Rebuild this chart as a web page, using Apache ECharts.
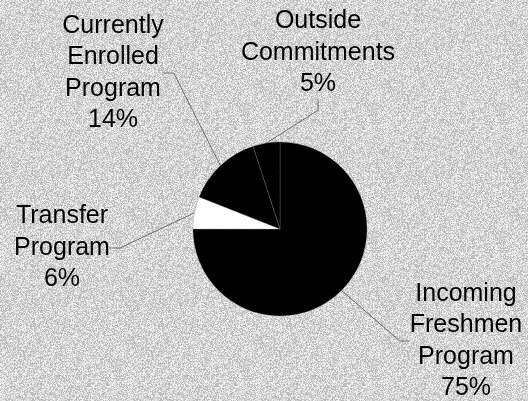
<!DOCTYPE html>
<html>
<head>
<meta charset="utf-8">
<script src="https://cdn.jsdelivr.net/npm/echarts@6/dist/echarts.min.js"></script>
<style>
html,body{margin:0;padding:0;background:#d0d0d0;}
#chart{width:528px;height:401px;}
</style>
</head>
<body>
<div id="chart"></div>
<script>
// Data
var categories = ['Incoming Freshmen Program', 'Transfer Program', 'Currently Enrolled Program', 'Outside Commitments'];
var shares = [75, 6, 14, 5];
var sliceColors = ['#000000', '#ffffff', '#000000', '#000000'];

// label centres (presentation only)
var labelPos = [[466, 341], [62, 248], [113, 73], [318, 53]];

// deterministic grey speckle texture for the background
function makeTexture() {
  var c = document.createElement('canvas');
  c.width = 128; c.height = 128;
  var ctx = c.getContext('2d');
  var img = ctx.createImageData(128, 128);
  var s = 12345;
  for (var i = 0; i < 128 * 128; i++) {
    s = (s * 1103515245 + 12345) & 0x7fffffff;
    var v = 178 + ((s >> 8) % 70);
    img.data[i * 4] = v; img.data[i * 4 + 1] = v; img.data[i * 4 + 2] = v; img.data[i * 4 + 3] = 255;
  }
  ctx.putImageData(img, 0, 0);
  return c;
}

var chart = echarts.init(document.getElementById('chart'), null, {renderer: 'canvas'});
var data = categories.map(function (n, i) {
  return {name: n, value: shares[i], itemStyle: {color: sliceColors[i]}};
});
chart.setOption({
  backgroundColor: {image: makeTexture(), repeat: 'repeat'},
  animation: false,
  series: [{
    type: 'pie',
    center: [280, 229],
    radius: [0, 87],
    startAngle: 90,
    clockwise: true,
    data: data,
    itemStyle: {borderColor: '#8a8a8a', borderWidth: 0.6, borderType: 'dotted'},
    label: {
      show: true,
      position: 'outside',
      formatter: function (p) { return p.name.split(' ').join('\n') + '\n' + p.value + '%'; },
      fontFamily: 'Liberation Sans, Arial, sans-serif',
      fontSize: 25,
      lineHeight: 31.5,
      color: '#000',
      align: 'center'
    },
    labelLine: {show: true, lineStyle: {color: '#444', width: 0.7}, length: 20, length2: 10},
    labelLayout: function (p) {
      var pos = labelPos[p.dataIndex];
      return {x: pos[0], y: pos[1], align: 'center', verticalAlign: 'middle'};
    },
    emphasis: {disabled: true}
  }]
});
</script>
</body>
</html>
